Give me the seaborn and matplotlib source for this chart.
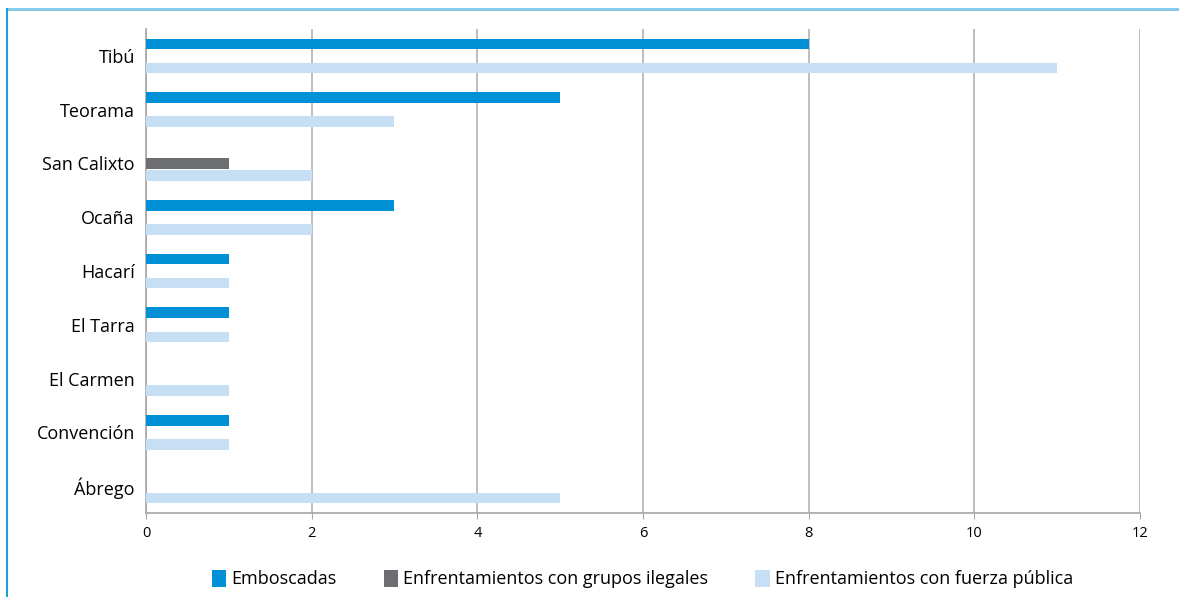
import pandas as pd
import seaborn as sns
import matplotlib.pyplot as plt
from matplotlib.lines import Line2D
from matplotlib.patches import Patch

municipios = ["Tibú", "Teorama", "San Calixto", "Ocaña", "Hacarí",
              "El Tarra", "El Carmen", "Convención", "Ábrego"]
series = ["Emboscadas", "Enfrentamientos con grupos ilegales",
          "Enfrentamientos con fuerza pública"]
emboscadas = [8, 5, 0, 3, 1, 1, 0, 1, 0]
grupos_ilegales = [0, 0, 1, 0, 0, 0, 0, 0, 0]
fuerza_publica = [11, 3, 2, 2, 1, 1, 1, 1, 5]
colores = ["#0090d5", "#6d6e72", "#c6dff4"]

df = pd.DataFrame({
    "municipio": municipios * 3,
    "serie": [s for s in series for _ in municipios],
    "valor": emboscadas + grupos_ilegales + fuerza_publica,
})

plt.rcParams["font.family"] = ["Open Sans", "DejaVu Sans"]
fig = plt.figure(figsize=(11.79, 5.97), dpi=100)
ax = fig.add_axes([0.1238, 0.1407, 0.8432, 0.8107])

sns.barplot(data=df, x="valor", y="municipio", hue="serie", order=municipios,
            hue_order=series, palette=colores, saturation=1, orient="h",
            width=0.67, gap=0.12, errorbar=None, legend=False, ax=ax, zorder=3)

ax.set_xlim(0, 12)
ax.set_xticks(range(0, 13, 2))
ax.set_ylim(len(municipios) - 0.5, -0.5)
ax.set_xlabel("")
ax.set_ylabel("")
ax.grid(axis="x", color="#b3b3b3", linewidth=1.2, zorder=0)
for s in ["top", "right"]:
    ax.spines[s].set_visible(False)
for s in ["left", "bottom"]:
    ax.spines[s].set_color("#a6a6a6")
    ax.spines[s].set_linewidth(1.2)
ax.tick_params(axis="x", length=4, color="#a6a6a6", labelsize=10.5, pad=5)
ax.tick_params(axis="y", length=0, labelsize=13, pad=8)

handles = [Patch(facecolor=c, edgecolor="none") for c in colores]
fig.legend(handles, series, loc="center", bbox_to_anchor=(0.545, 0.03), ncol=3,
           frameon=False, fontsize=13, handlelength=0.8, handleheight=1.1,
           handletextpad=0.3, columnspacing=2.6)

fig.add_artist(Line2D([0.006, 1], [0.985, 0.985], color="#7ec8ea", linewidth=2))
fig.add_artist(Line2D([0.006, 0.006], [0, 0.985], color="#1e9fdc", linewidth=1.5))

fig.savefig("out.png", dpi=100)
